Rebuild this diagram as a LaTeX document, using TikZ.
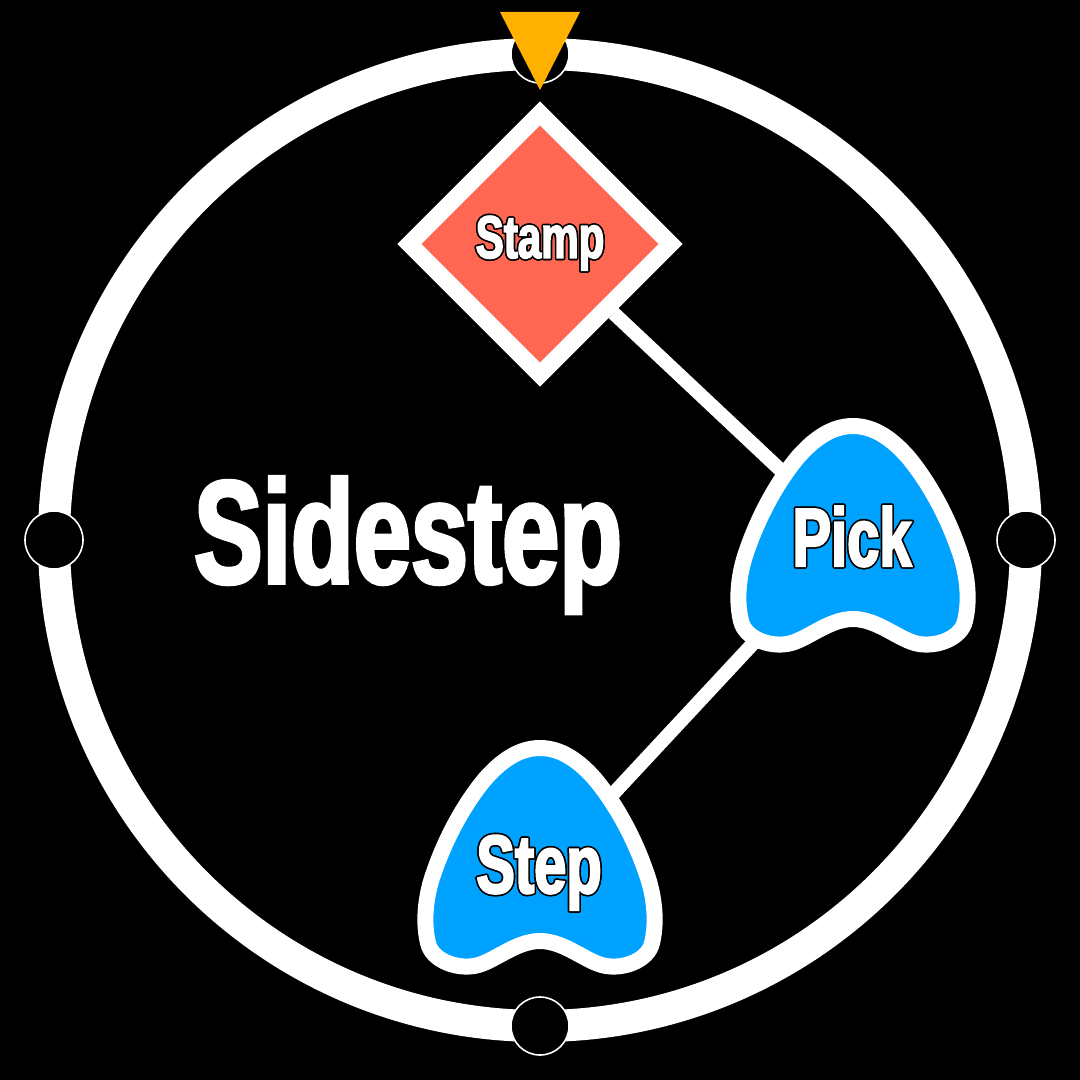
\documentclass[tikz,border=0pt]{standalone}
\usepackage{fontspec}
\newfontfamily\impactfont[FakeStretch=0.7,FakeBold=2.5]{Liberation Sans Bold}
\usepackage{contour}
\contourlength{0.45pt}
\usetikzlibrary{shapes.geometric,backgrounds}
\definecolor{stampred}{RGB}{255,103,82}
\definecolor{pickblue}{RGB}{0,162,255}
\definecolor{markorange}{RGB}{255,176,0}
\tikzset{
  ring/.style={draw=white,line width=0.32cm},
  knob/.style={circle,fill=black,draw=white,line width=0.45pt,minimum size=0.58cm,inner sep=0pt},
  link/.style={draw=white,line width=0.14cm},
  stampbox/.style={diamond,aspect=1,fill=stampred,draw=white,line width=0.17cm,
    minimum width=2.68cm,minimum height=2.68cm,inner sep=0pt,text=white,
    font=\impactfont\fontsize{17.1}{20}\selectfont},
  tag/.style={text=white,inner sep=0pt,font=\impactfont\fontsize{23.5}{28}\selectfont},
  title/.style={text=white,inner sep=0pt,font=\impactfont\fontsize{41.7}{50}\selectfont},
  blob/.pic={
    \draw[fill=pickblue,draw=white,line width=0.16cm]
      (0,-115) .. controls (22,-115) and (40,-101) .. (55,-84)
      .. controls (75,-60) and (95,-25) .. (108,15)
      .. controls (112.5,29) and (118,55) .. (112,80)
      .. controls (108,97) and (85,106) .. (66,103)
      .. controls (47,100) and (25,78) .. (0,78)
      .. controls (-25,78) and (-47,100) .. (-66,103)
      .. controls (-85,106) and (-108,97) .. (-112,80)
      .. controls (-118,55) and (-112.5,29) .. (-108,15)
      .. controls (-95,-25) and (-75,-60) .. (-55,-84)
      .. controls (-40,-101) and (-22,-115) .. (0,-115) -- cycle;
  }
}
\begin{document}
\begin{tikzpicture}[x=0.01cm,y=-0.01cm]
  \draw[ring] (540,540) circle[radius=486];
  \draw
    (540,54) node[knob] (top){}
    (54,540) node[knob] (left){}
    (1026,540) node[knob] (right){}
    (540,1026) node[knob] (bottom){};
  \fill[markorange] (500,12) -- (580,12) -- (540,90) -- cycle;

  \node[stampbox] (stamp) at (540,244) {\contour{black}{Stamp}};
  \pic at (853,541) {blob};
  \node[tag,anchor=base] (pick) at (852,566) {\contour{black}{Pick}};
  \pic at (540,863) {blob};
  \node[tag,anchor=base] (step) at (539,893) {\contour{black}{Step}};

  \node[title,anchor=base] (name) at (408,583) {Sidestep};

  \begin{pgfonlayer}{background}
    \fill[black] (0,0) rectangle (1080,1080);
    \draw[link] (stamp) -- (pick);
    \draw[link] (pick) -- (step);
  \end{pgfonlayer}
\end{tikzpicture}
\end{document}
